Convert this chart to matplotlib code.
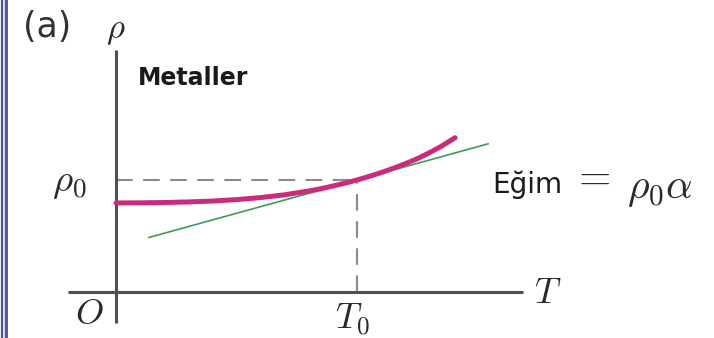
import matplotlib
matplotlib.use("Agg")
import matplotlib.pyplot as plt
from matplotlib.lines import Line2D

plt.rcParams['mathtext.fontset'] = 'cm'
plt.rcParams['font.family'] = ['DejaVu Sans']

# Data (units: T / T0 and rho / rho0)
curve_T = [0.0, 0.1, 0.2, 0.3, 0.4, 0.5, 0.6, 0.7, 0.8, 0.85, 0.9, 0.95, 1.0,
           1.05, 1.1, 1.15, 1.2, 1.25, 1.3, 1.35, 1.407]
curve_rho = [0.795, 0.796, 0.799, 0.804, 0.812, 0.825, 0.843, 0.868, 0.902, 0.922, 0.946,
             0.972, 1.0, 1.032, 1.066, 1.104, 1.145, 1.190, 1.243, 1.301, 1.378]
tangent_T = [0.137, 1.544]
tangent_rho = [0.487, 1.323]
T0 = 1.0
rho0 = 1.0
xaxis_T = [-0.199, 1.689]
yaxis_rho = [-0.277, 2.161]

fig = plt.figure(figsize=(7.14, 3.38), dpi=100)
ax = fig.add_axes([0, 0, 1, 1])
ax.set_xlim(-116 / 241, (714 - 116) / 241)
ax.set_ylim((292 - 338) / 112, 292 / 112)
ax.axis('off')

axis_color = '#4f4f4f'
ax.plot(xaxis_T, [0, 0], color=axis_color, lw=2.2, solid_capstyle='butt', zorder=3)
ax.plot([0, 0], yaxis_rho, color=axis_color, lw=2.2, solid_capstyle='butt', zorder=3)

ax.plot([0, T0], [rho0, rho0], color='#8a8a8a', lw=1.5, dashes=(8, 5), zorder=2)
ax.plot([T0, T0], [0, rho0], color='#8a8a8a', lw=1.5, dashes=(8, 5), zorder=2)

ax.plot(tangent_T, tangent_rho, color='#3f9a5c', lw=1.2, zorder=4)
ax.plot(curve_T, curve_rho, color='#cc2a7c', lw=3.6, solid_capstyle='round',
        solid_joinstyle='round', zorder=5)

txt = '#2a2a2a'
ax.text(-0.286, 2.366, '(a)', fontsize=25, color='#333333', ha='center', va='center')
ax.text(0.0, 2.34, r'$\rho$', fontsize=25, color=txt, ha='center', va='center')
ax.text(0.091, 1.91, 'Metaller', fontsize=17, fontweight='bold', color='#1a1a1a',
        ha='left', va='center')
ax.text(-0.195, 0.982, r'$\rho_{\mathrm{0}}$', fontsize=28, color=txt, ha='center', va='center')
ax.text(-0.112, -0.196, r'$O$', fontsize=26, color=txt, ha='center', va='center')
ax.text(0.979, -0.25, r'$T_{\mathrm{0}}$', fontsize=26, color=txt, ha='center', va='center')
ax.text(1.793, -0.01, r'$T$', fontsize=26, color=txt, ha='center', va='center')
ax.text(1.56, 0.955, 'Eğim', fontsize=20, color='#1a1a1a', ha='left', va='center')
ax.text(1.971, 1.03, r'$=$', fontsize=30, color=txt, ha='center', va='center')
ax.text(2.12, 0.93, r'$\rho_{\mathrm{0}}\alpha$', fontsize=30, color=txt, ha='left', va='center')

# left border double line
fig.add_artist(Line2D([1.5 / 714, 1.5 / 714], [0, 1], color='#4a5592', lw=1.6))
fig.add_artist(Line2D([3.5 / 714, 3.5 / 714], [0, 1], color='#c7cbe0', lw=1.0))
fig.add_artist(Line2D([6.0 / 714, 6.0 / 714], [0, 1], color='#4a5592', lw=2.0))

fig.savefig('out.png', dpi=100)
